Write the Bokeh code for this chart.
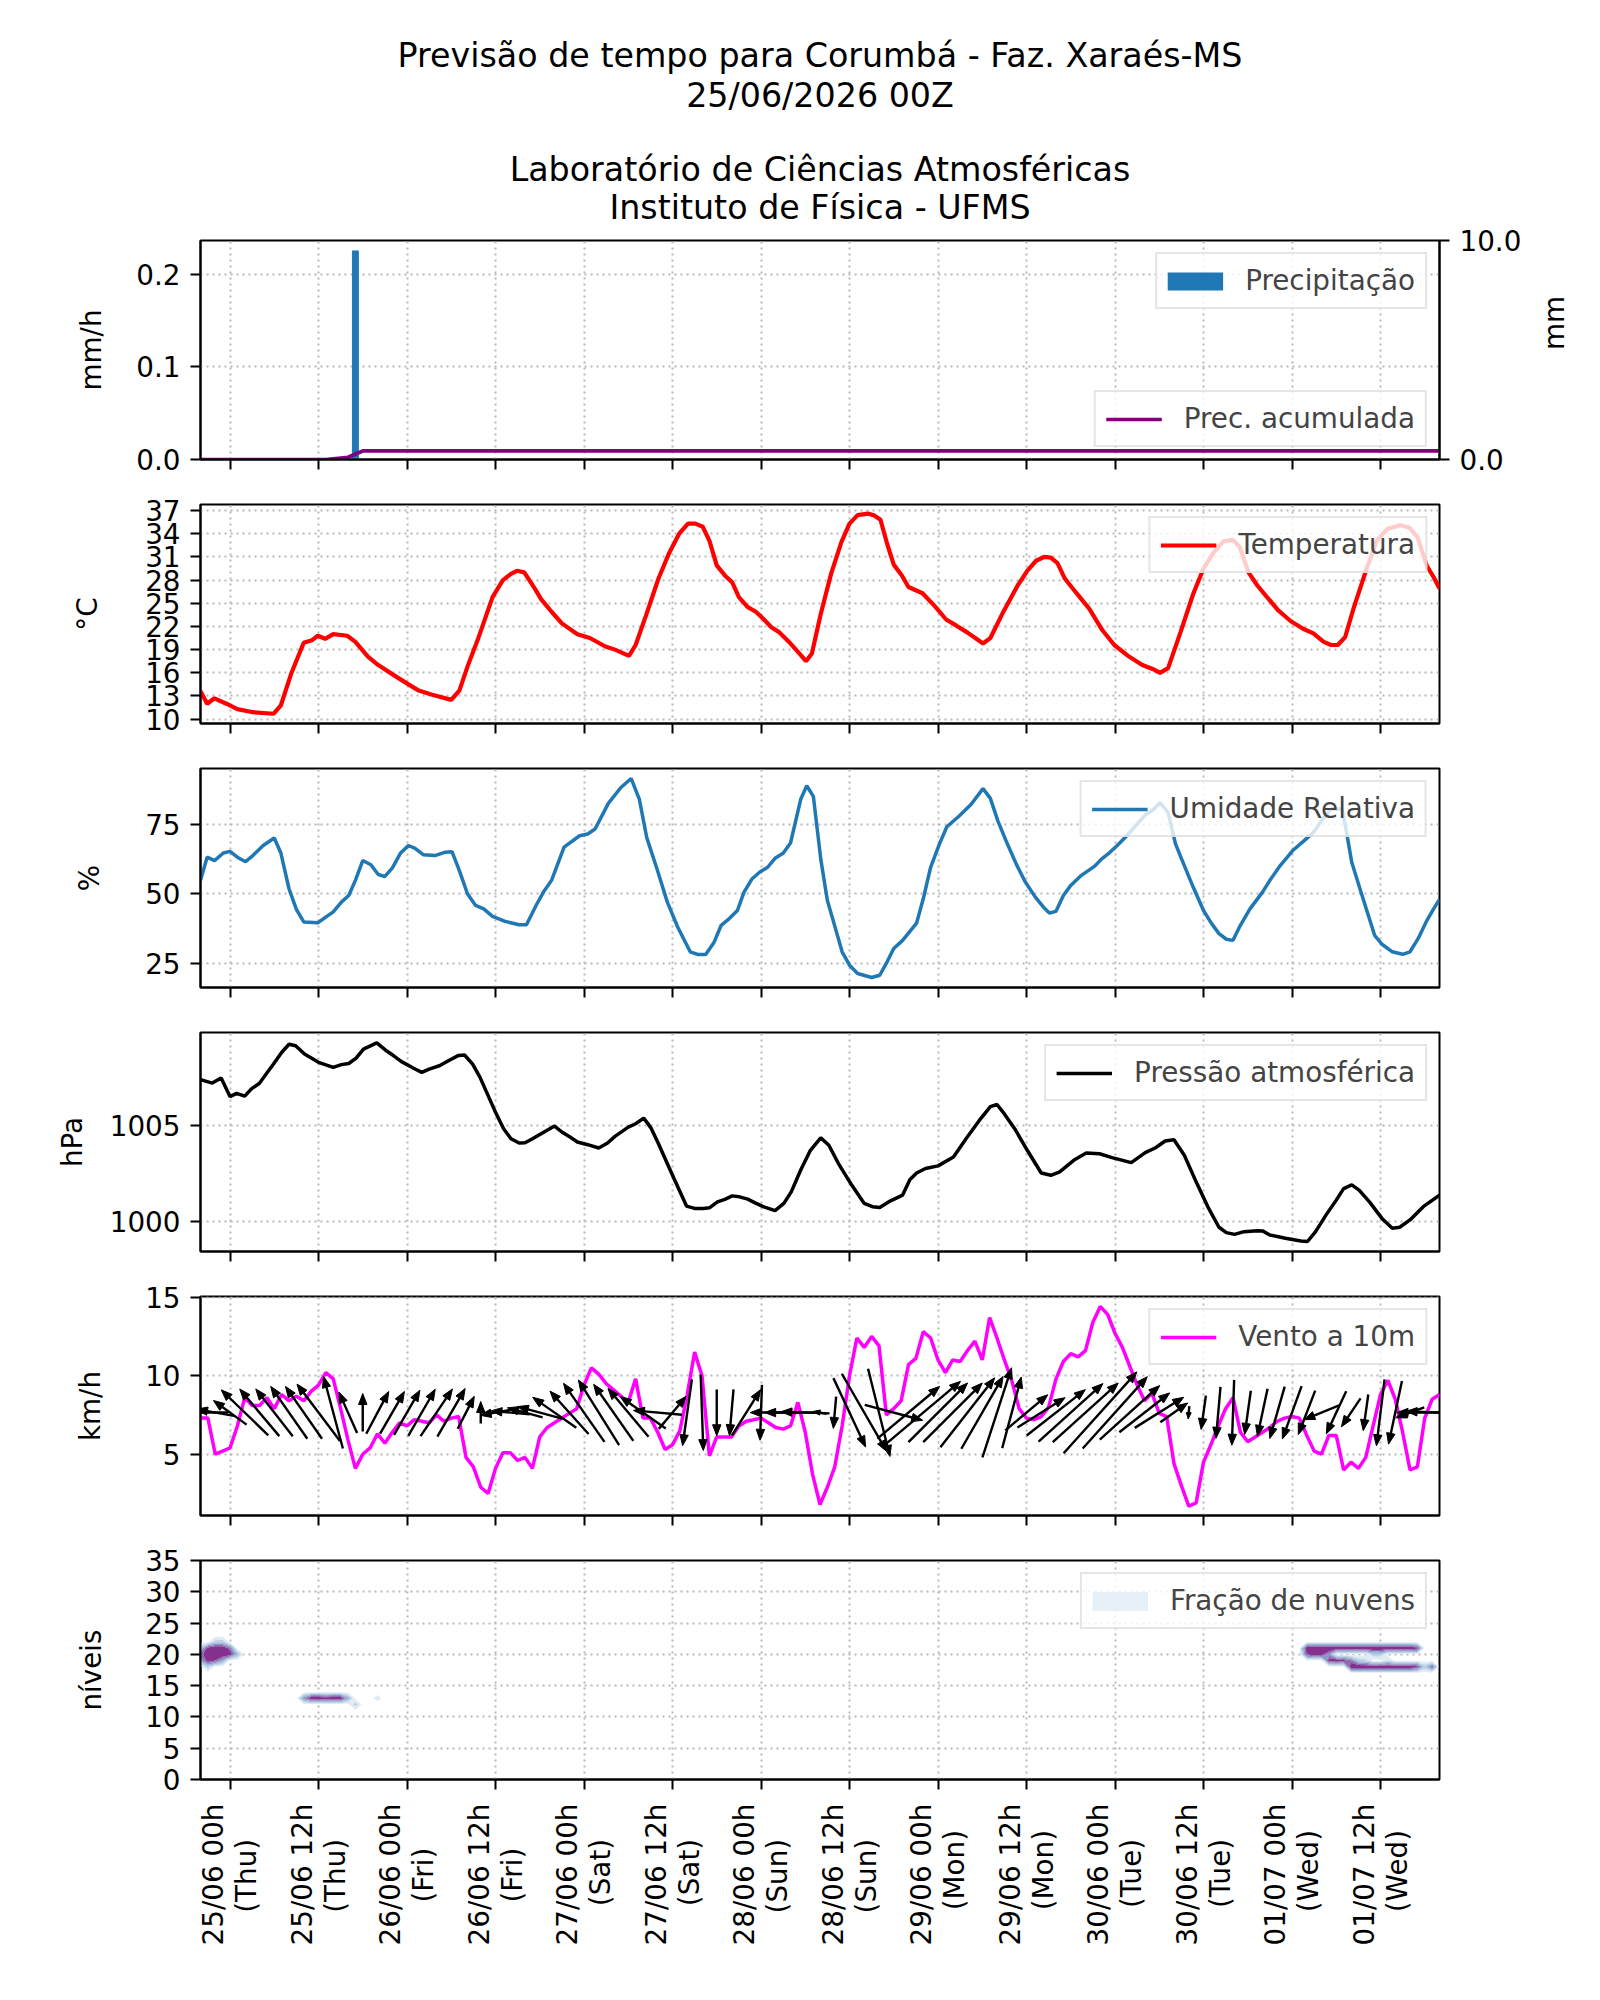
import math
import numpy as np
from bokeh.plotting import figure
from bokeh.layouts import column
from bokeh.models import (Range1d, LinearAxis, FixedTicker, NumeralTickFormatter,
                          Legend, LegendItem)
from bokeh.core.properties import value
from bokeh.embed import file_html
from bokeh.resources import INLINE

# ---------------------------------------------------------------- data
title_lines = ["Previsão de tempo para Corumbá - Faz. Xaraés-MS",
               "25/06/2026 00Z",
               "Laboratório de Ciências Atmosféricas",
               "Instituto de Física - UFMS"]

# time axis: hours since 24/06 20h (local time)
tick_hours = [4, 16, 28, 40, 52, 64, 76, 88, 100, 112, 124, 136, 148, 160]
tick_dates = ["25/06 00h", "25/06 12h", "26/06 00h", "26/06 12h", "27/06 00h",
              "27/06 12h", "28/06 00h", "28/06 12h", "29/06 00h", "29/06 12h",
              "30/06 00h", "30/06 12h", "01/07 00h", "01/07 12h"]
tick_days = ["(Thu)", "(Thu)", "(Fri)", "(Fri)", "(Sat)", "(Sat)", "(Sun)",
             "(Sun)", "(Mon)", "(Mon)", "(Tue)", "(Tue)", "(Wed)", "(Wed)"]

precip_hours = [21]
precip_mmh = [0.225]
acc_hours = [0, 17, 20, 22, 168]
acc_mm = [0.0, 0.0, 0.1, 0.39, 0.39]

temp_hours = [0, 0.9, 1.9, 3.5, 5, 7.1, 9.9, 10.9, 12.3, 14,
              15.1, 15.9, 16.9, 18, 19.9, 21, 22.7, 24.1, 26.2, 28.2,
              29.6, 31.3, 34, 35.1, 36.2, 37.6, 39.6, 41, 42.1, 42.9,
              43.9, 45.2, 46.2, 47.6, 49, 51.1, 52.8, 54.9, 56.2, 58.1,
              59, 60.4, 62.1, 63.5, 64.9, 66.1, 67.1, 68.1, 69, 70,
              71.1, 72.1, 73, 74.2, 75.3, 76.3, 77.4, 78.4, 79.8, 81.4,
              82.1, 82.9, 84.1, 85.5, 86.9, 88, 89.1, 90.5, 91.3, 92.2,
              93.1, 94, 95.1, 96, 97.9, 99.5, 101.1, 102.5, 104, 105.2,
              106.1, 107.1, 108.7, 110.8, 112.1, 113.3, 114.4, 115.3, 116.2, 117.2,
              118.7, 120.5, 122.3, 123.9, 125.9, 127.7, 129.1, 130.1, 131.2, 132.9,
              134.6, 136, 137.4, 138.7, 140, 140.9, 142.1, 143.3, 144.7, 146.1,
              147.8, 149.5, 150.9, 152.3, 153.3, 154.2, 155.2, 156.4, 158.2, 159.5,
              160.9, 162.7, 163.9, 165, 166.3, 167.2, 168]
temp_c = [13.6, 12.0, 12.7, 12.0, 11.3, 10.9, 10.7, 11.8, 15.9, 19.9,
          20.2, 20.8, 20.4, 21.0, 20.8, 20.0, 18.1, 17.0, 15.7, 14.5,
          13.7, 13.2, 12.5, 13.7, 16.8, 20.3, 25.8, 28.0, 28.8, 29.2,
          29.0, 27.1, 25.5, 23.9, 22.4, 21.0, 20.5, 19.4, 19.0, 18.2,
          19.6, 23.4, 28.2, 31.4, 34.0, 35.3, 35.3, 34.9, 33.1, 29.9,
          28.6, 27.7, 25.8, 24.5, 23.9, 23.0, 21.9, 21.3, 20.0, 18.3,
          17.5, 18.5, 23.6, 28.8, 32.9, 35.3, 36.4, 36.6, 36.4, 35.8,
          32.7, 30.0, 28.6, 27.1, 26.3, 24.7, 22.9, 22.1, 21.2, 20.4,
          19.8, 20.5, 23.6, 27.3, 29.2, 30.5, 31.0, 30.9, 30.2, 28.2,
          26.4, 24.3, 21.5, 19.6, 18.1, 17.0, 16.5, 16.0, 16.6, 21.3,
          26.2, 29.5, 31.6, 33.0, 33.2, 32.3, 29.0, 27.3, 25.7, 24.1,
          22.7, 21.7, 21.1, 20.0, 19.6, 19.6, 20.6, 24.5, 29.7, 33.1,
          34.6, 35.1, 34.8, 33.6, 29.8, 28.4, 26.9]
temp_ticks = [10, 13, 16, 19, 22, 25, 28, 31, 34, 37]

rh_hours = [0, 0.9, 1.9, 3.1, 4, 5, 6.1, 7.1, 8.5, 10,
            10.9, 12, 13, 14, 15.9, 18, 19.1, 20.1, 21, 22,
            23.1, 24.1, 25, 26, 27.1, 28.2, 29.1, 30.2, 31.8, 33.2,
            34.1, 35.1, 36.2, 37.3, 38.4, 39.6, 41.3, 43.2, 44.2, 45.5,
            46.5, 47.6, 49.3, 51.4, 52.5, 53.5, 55.3, 57, 58.4, 59.5,
            60.5, 61.9, 63.3, 64.7, 66.4, 67.5, 68.5, 69.6, 70.6, 71.7,
            72.8, 73.7, 74.8, 75.8, 76.9, 77.9, 79, 80, 81.4, 82.2,
            83.1, 84.1, 85, 86.1, 87, 88, 89.1, 91, 92.1, 93.1,
            94, 95.2, 97.1, 98, 99, 100.2, 101.2, 102.8, 104.5, 106.1,
            107.1, 108.1, 109.4, 110.6, 111.8, 113.2, 114.3, 115.1, 116, 117,
            118, 119.3, 121.2, 122.2, 123.2, 124.3, 125.6, 127, 128.1, 129.3,
            130.1, 131.2, 132.2, 133.4, 134.6, 136, 137.1, 138.1, 139.1, 140,
            141, 142.3, 144, 145, 146.4, 148.1, 149.5, 150.9, 152, 153.3,
            154.8, 155.4, 156.1, 157.5, 159.2, 160.2, 161.6, 163, 164, 165.1,
            166.3, 167.2, 168]
rh_pct = [54.8, 63.1, 61.9, 64.6, 65.2, 63.1, 61.5, 63.7, 67.3, 70.0,
          64.6, 51.8, 44.4, 39.9, 39.6, 43.5, 47.0, 49.4, 54.8, 61.9,
          60.4, 56.9, 56.2, 59.2, 64.5, 67.3, 66.3, 64.0, 63.7, 64.9,
          65.1, 58.3, 50.0, 45.8, 44.6, 41.9, 40.1, 38.9, 38.9, 45.8,
          50.6, 54.8, 66.7, 70.8, 71.4, 73.2, 82.4, 88.1, 91.3, 83.9,
          70.2, 58.9, 47.0, 38.1, 29.2, 28.2, 28.2, 32.4, 38.7, 41.1,
          44.0, 50.6, 55.4, 57.7, 59.5, 62.7, 64.5, 68.2, 84.0, 88.7,
          84.9, 62.5, 47.6, 37.5, 29.2, 24.4, 21.4, 20.0, 20.8, 25.6,
          30.4, 33.3, 39.5, 48.2, 59.5, 67.9, 74.0, 77.7, 82.1, 87.7,
          84.2, 76.2, 67.9, 60.7, 54.4, 48.8, 45.2, 43.1, 43.7, 49.4,
          53.0, 56.3, 59.8, 62.5, 64.6, 67.3, 70.8, 75.0, 78.2, 80.4,
          82.7, 79.2, 67.9, 60.1, 52.4, 44.0, 39.3, 35.7, 33.7, 33.3,
          38.7, 44.6, 50.6, 54.8, 60.1, 65.5, 68.7, 72.0, 76.2, 80.4,
          80.4, 72.0, 61.3, 49.4, 35.1, 31.9, 29.2, 28.3, 29.2, 33.9,
          40.5, 44.6, 48.0]
rh_ticks = [25, 50, 75]

pres_hours = [0, 1.6, 2.8, 4, 4.9, 6, 6.9, 8, 8.9, 9.9,
              11, 12, 12.9, 14.1, 16, 18, 19.1, 20.1, 21.1, 22.1,
              23.9, 25.1, 26.2, 27.2, 28.9, 30, 31, 32.4, 33.8, 35,
              35.8, 36.9, 37.9, 39, 40, 41.1, 42.1, 43.2, 44, 44.9,
              46.3, 48, 49, 50.1, 51.1, 52.5, 54, 55.2, 56.2, 58,
              59, 60.1, 61.1, 62.1, 63.2, 64.2, 65.9, 67, 68.2, 69,
              70.1, 71.1, 72.1, 73.1, 74.2, 75.2, 76.3, 77.9, 79.1, 80.1,
              81.4, 82.7, 84.1, 85.2, 86.5, 88.3, 90, 91.1, 92.1, 93.5,
              95.2, 96.2, 97.1, 98.3, 100, 102.1, 103.8, 105.6, 107.1, 108,
              109, 110.4, 112.1, 114, 115.3, 116.5, 118.4, 120.1, 121.9, 123.6,
              126.2, 128.1, 129.5, 130.8, 132, 133.4, 135, 136.7, 138.1, 139.1,
              140.2, 141.5, 143.3, 144, 145, 147.1, 149.2, 150.1, 151.2, 152.6,
              154, 155, 156.1, 157.1, 158.5, 160.2, 161.6, 162.6, 164, 165.8,
              168]
pres_hpa = [1007.38, 1007.20, 1007.47, 1006.50, 1006.67, 1006.52, 1006.90, 1007.19, 1007.67, 1008.19,
            1008.79, 1009.22, 1009.14, 1008.71, 1008.28, 1008.02, 1008.16, 1008.22, 1008.50, 1008.97,
            1009.29, 1008.91, 1008.62, 1008.33, 1007.97, 1007.76, 1007.93, 1008.10, 1008.40, 1008.64,
            1008.66, 1008.19, 1007.50, 1006.55, 1005.69, 1004.83, 1004.31, 1004.09, 1004.10, 1004.28,
            1004.60, 1004.97, 1004.66, 1004.40, 1004.14, 1004.00, 1003.83, 1004.09, 1004.43, 1004.91,
            1005.09, 1005.38, 1004.86, 1004.05, 1003.10, 1002.24, 1000.81, 1000.69, 1000.69, 1000.72,
            1001.03, 1001.16, 1001.34, 1001.29, 1001.17, 1000.98, 1000.78, 1000.57, 1000.95, 1001.55,
            1002.70, 1003.71, 1004.36, 1003.97, 1003.02, 1001.90, 1000.95, 1000.78, 1000.74, 1001.07,
            1001.38, 1002.19, 1002.53, 1002.76, 1002.90, 1003.36, 1004.31, 1005.26, 1005.98, 1006.09,
            1005.60, 1004.83, 1003.71, 1002.53, 1002.41, 1002.59, 1003.19, 1003.57, 1003.53, 1003.33,
            1003.07, 1003.59, 1003.84, 1004.19, 1004.26, 1003.45, 1002.07, 1000.69, 999.71, 999.43,
            999.34, 999.48, 999.53, 999.52, 999.31, 999.14, 999.00, 998.97, 999.48, 1000.34,
            1001.12, 1001.72, 1001.91, 1001.64, 1001.03, 1000.17, 999.66, 999.71, 1000.09, 1000.78,
            1001.38]
pres_ticks = [1000, 1005]

# hourly 10 m wind speed (km/h)
wind_kmh = [7.3, 7.3, 5.0, 5.2, 5.4, 6.8, 8.6, 8.1, 8.1, 8.6, 7.9, 8.8,
            8.4, 8.7, 8.4, 9.0, 9.4, 10.2, 9.8, 7.9, 5.9, 4.1, 5.0, 5.4,
            6.3, 5.7, 6.4, 7.0, 6.8, 7.2, 7.1, 7.0, 7.5, 7.1, 7.3, 7.4,
            4.8, 4.2, 2.9, 2.5, 4.1, 5.1, 5.1, 4.6, 4.8, 4.1, 6.1, 6.7,
            7.0, 7.3, 7.6, 7.9, 9.4, 10.5, 10.1, 9.5, 9.1, 8.7, 8.3, 9.8,
            7.3, 7.3, 6.4, 5.3, 5.6, 6.5, 8.8, 11.5, 10.0, 4.9, 6.1, 6.1,
            6.1, 6.8, 7.1, 7.2, 7.3, 7.0, 6.7, 6.6, 6.8, 8.3, 6.4, 3.7,
            1.8, 2.9, 4.2, 6.8, 10.0, 12.4, 11.8, 12.5, 11.9, 7.5, 7.9, 8.4,
            10.7, 11.1, 12.8, 12.4, 11.0, 10.2, 11.0, 10.9, 11.6, 12.2, 11.0, 13.7,
            12.4, 11.0, 9.7, 7.9, 7.3, 7.2, 7.4, 8.0, 9.8, 10.9, 11.4, 11.2,
            11.6, 13.4, 14.4, 13.9, 12.7, 11.8, 10.6, 9.4, 8.4, 8.9, 7.6, 7.4,
            4.4, 3.0, 1.7, 1.9, 4.5, 5.6, 6.8, 7.9, 8.6, 6.4, 5.8, 6.1,
            6.4, 6.7, 7.1, 7.3, 7.4, 7.3, 6.2, 5.2, 5.0, 6.2, 6.2, 4.0,
            4.5, 4.1, 4.8, 6.8, 8.8, 9.7, 8.5, 6.4, 4.0, 4.2, 7.3, 8.5,
            8.8]
# wind direction (degrees it blows from), every second hour
arrow_step = 2
wind_dir = [90, 100, 126, 134, 140, 142, 145, 145, 143, 165,
            156, 180, 208, 210, 210, 210, 214, 210, 207, 180,
            80, 95, 105, 105, 125, 138, 145, 148, 145, 140,
            125, 95, 220, 8, 358, 0, 5, 212, 2, 90,
            90, 92, 100, 5, 335, 330, 346, 285, 230, 230,
            225, 225, 218, 210, 198, 195, 230, 238, 232, 228,
            228, 222, 222, 228, 232, 238, 235, 5, 8, 5,
            2, 8, 12, 16, 20, 21, 68, 25, 34, 8,
            7, 12, 70, 90, 92]
wind_ticks = [5, 10, 15]

# cloud fraction on model levels (sparse cells: hour, level, fraction)
cloud_hours = [0, 1, 2, 3, 4, 5, 0, 1, 2, 3, 4, 0, 1, 2, 3, 2, 3, 1,
               14, 15, 16, 17, 18, 19, 20, 21, 24,
               150, 151, 152, 153, 154, 155, 156, 157, 158, 159, 160, 161, 162, 163, 164, 165,
               150, 151, 152, 153, 153, 154, 155, 156,
               156, 157, 158, 159, 160, 161, 162, 163, 164, 165, 166, 167,
               157, 158, 159, 160, 161]
cloud_levels = [20, 20, 20, 20, 20, 20, 21, 21, 21, 21, 21, 19, 19, 19, 19, 22, 22, 18,
                13, 13, 13, 13, 13, 13, 13, 12, 13,
                21, 21, 21, 21, 21, 21, 21, 21, 21, 21, 21, 21, 21, 21, 21, 21,
                20, 20, 20, 20, 19, 19, 19, 19,
                18, 18, 18, 18, 18, 18, 18, 18, 18, 18, 18, 18,
                19, 19, 20, 20, 19]
cloud_frac = [0.7, 1.0, 1.0, 1.0, 0.95, 0.4, 0.3, 0.9, 1.0, 1.0, 0.7, 0.5, 0.9, 0.8, 0.5, 0.3, 0.3, 0.3,
              0.6, 1.0, 1.0, 0.95, 1.0, 1.0, 0.5, 0.3, 0.1,
              1.0, 1.0, 1.0, 1.0, 1.0, 1.0, 1.0, 1.0, 1.0, 1.0, 1.0, 1.0, 1.0, 1.0, 1.0, 0.9,
              0.8, 1.0, 0.9, 0.6, 0.9, 1.0, 0.9, 0.7,
              1.0, 1.0, 1.0, 1.0, 1.0, 1.0, 1.0, 1.0, 1.0, 0.9, 0.3, 0.8,
              0.3, 0.25, 0.3, 0.3, 0.2]
cloud_ticks = [0, 5, 10, 15, 20, 25, 30, 35]
cloud_bounds = [0.05, 0.2, 0.35, 0.5, 0.65, 0.8, 1.01]
cloud_colors = ["#e0ecf4", "#bfd3e6", "#9ebcda", "#8c96c6", "#8c6bb1", "#85308f"]

# ---------------------------------------------------------------- layout
FONT = "DejaVu Sans"
FS = "27.8px"
W = 1600
LEFT, RIGHT = 200, 161
FRAME_H = 219
GAP_TOP, GAP_BOT = 23, 22
HEADER_H = 226
P1_TOP = 14            # header + P1_TOP puts the first frame at y = 240
TITLE_Y = [54.5, 94.5, 169, 206.5]

# DejaVu Sans advance widths (em), used to centre the two-line tick labels
ADV = {"0": .636, "1": .636, "2": .636, "3": .636, "4": .636, "5": .636, "6": .636,
       "7": .636, "8": .636, "9": .636, "/": .337, " ": .318, "h": .634, "(": .390,
       ")": .390, "T": .611, "u": .634, "F": .575, "r": .411, "i": .278, "S": .635,
       "a": .613, "t": .392, "n": .634, "M": .863, "o": .612, "e": .615, "W": .989,
       "d": .635}


def text_em(s):
    return sum(ADV.get(c, 0.6) for c in s)


def two_line(a, b):
    pad = int(round((text_em(a) - text_em(b)) / 2 / ADV[" "]))
    return a + "\n" + b + "\u00a0" * max(pad, 0)


x_range = Range1d(0, 168)


def style_axis(ax):
    ax.axis_line_color = "black"
    ax.axis_line_width = 2
    ax.major_tick_line_color = "black"
    ax.major_tick_line_width = 2
    ax.major_tick_out = 10
    ax.major_tick_in = 0
    ax.minor_tick_line_color = None
    ax.major_label_text_font = FONT
    ax.major_label_text_font_size = FS
    ax.major_label_text_color = "black"
    ax.major_label_standoff = 10
    ax.axis_label_text_font = FONT
    ax.axis_label_text_font_size = FS
    ax.axis_label_text_font_style = "normal"
    ax.axis_label_text_color = "black"


def make_panel(y0, y1, yticks, ylabel, label_standoff, top=GAP_TOP, bottom=GAP_BOT):
    p = figure(width=W, height=top + FRAME_H + bottom, x_range=x_range,
               y_range=Range1d(y0, y1), toolbar_location=None, output_backend="svg",
               title=None, min_border_left=LEFT, min_border_right=RIGHT,
               min_border_top=top, min_border_bottom=bottom)
    p.outline_line_color = "black"
    p.outline_line_width = 2
    p.xaxis.ticker = FixedTicker(ticks=tick_hours)
    p.yaxis.ticker = FixedTicker(ticks=yticks)
    p.yaxis.axis_label = ylabel
    for ax in p.axis:
        style_axis(ax)
    p.yaxis.axis_label_standoff = label_standoff
    p.xaxis.major_label_overrides = {h: "" for h in tick_hours}
    for g in p.grid:
        g.grid_line_color = "#b8b8b8"
        g.grid_line_dash = "2 4"
        g.grid_line_width = 2
    return p


def add_legend(p, entries, location):
    lg = Legend(items=[LegendItem(label=lbl, renderers=[r]) for lbl, r in entries],
                location=location, margin=12, padding=10, spacing=0,
                glyph_width=56, glyph_height=32, label_standoff=22,
                label_text_font=FONT, label_text_font_size=FS,
                border_line_color="#cccccc", border_line_width=2,
                background_fill_color="white", background_fill_alpha=0.8)
    p.add_layout(lg)


def patch_key(p, color, thickness):
    # legend swatch: a line renderer with no visible data
    return p.line(x=np.array([np.nan]), y=np.array([np.nan]), color=color,
                  line_width=thickness, line_cap="butt")


# header with the titles
hdr = figure(width=W, height=HEADER_H, x_range=Range1d(0, W), y_range=Range1d(HEADER_H, 0),
             title=None, min_border=0, toolbar_location=None, output_backend="svg",
             x_axis_type=None, y_axis_type=None)
hdr.outline_line_color = None
hdr.text(x=[W / 2] * 4, y=TITLE_Y, text=title_lines,
         text_font=value(FONT), text_font_size="33.3px",
         text_align="center", text_baseline="alphabetic", text_color="black")

# 1) precipitation
p1 = make_panel(0, 1.05 * max(precip_mmh), [0, 0.1, 0.2], "mm/h", 25, top=P1_TOP)
p1.yaxis.formatter = NumeralTickFormatter(format="0.0")
p1.extra_y_ranges = {"acc": Range1d(0, 10)}
bars = p1.vbar(x=precip_hours, top=precip_mmh, width=0.8, color="#1f77b4")
acc_line = p1.line(acc_hours, acc_mm, y_range_name="acc", color="#800080", line_width=3.7)
ax_r = LinearAxis(y_range_name="acc", ticker=FixedTicker(ticks=[0, 10]),
                  formatter=NumeralTickFormatter(format="0.0"), axis_label="mm")
style_axis(ax_r)
ax_r.axis_label_standoff = 30
if "axis_label_orientation" in ax_r.properties():
    ax_r.axis_label_orientation = math.pi / 2
p1.add_layout(ax_r, "right")
add_legend(p1, [("Precipitação", patch_key(p1, "#1f77b4", 18))], "top_right")
add_legend(p1, [("Prec. acumulada", acc_line)], "bottom_right")

# 2) temperature
p2 = make_panel(9.44, 37.78, temp_ticks, "°C", 38)
t_line = p2.line(temp_hours, temp_c, color="red", line_width=4.2)
add_legend(p2, [("Temperatura", t_line)], "top_right")

# 3) relative humidity
p3 = make_panel(16.4, 94.9, rh_ticks, "%", 36)
rh_line = p3.line(rh_hours, rh_pct, color="#1f77b4", line_width=3.5)
add_legend(p3, [("Umidade Relativa", rh_line)], "top_right")

# 4) pressure
p4 = make_panel(998.45, 1009.83, pres_ticks, "hPa", 18)
pr_line = p4.line(pres_hours, pres_hpa, color="black", line_width=3.5)
add_legend(p4, [("Pressão atmosférica", pr_line)], "top_right")

# 5) wind speed and direction arrows
WIND_Y0, WIND_Y1 = 1.1, 15.04
p5 = make_panel(WIND_Y0, WIND_Y1, wind_ticks, "km/h", 35)
hrs = np.arange(len(wind_kmh), dtype=float)
w_line = p5.line(hrs, wind_kmh, color="#ff00ff", line_width=3.5)

px_per_h = (W - LEFT - RIGHT) / (x_range.end - x_range.start)
px_per_kmh = FRAME_H / (WIND_Y1 - WIND_Y0)
ARROW_PX = 7.6          # arrow length in pixels per km/h
HEAD_LEN, HEAD_HALF = 11.0, 4.2
qy = float(np.mean(wind_kmh))
ah = hrs[::arrow_step]
spd = np.array(wind_kmh, dtype=float)[::arrow_step]
rad = np.radians(np.array(wind_dir, dtype=float))
u, v = -spd * np.sin(rad), -spd * np.cos(rad)
ax_px, ay_px = u * ARROW_PX, v * ARROW_PX
L = np.hypot(ax_px, ay_px)
ex, ey = ax_px / L, ay_px / L
hl = np.minimum(HEAD_LEN, 0.5 * L)
hw = HEAD_HALF * hl / HEAD_LEN
tip_x, tip_y = ax_px / 2, ay_px / 2
tail_x, tail_y = -ax_px / 2, -ay_px / 2
base_x, base_y = tip_x - hl * ex, tip_y - hl * ey
lx, ly = base_x - hw * ey, base_y + hw * ex
rx, ry = base_x + hw * ey, base_y - hw * ex


def dx(h, px):
    return h + px / px_per_h


def dy(py):
    return qy + py / px_per_kmh


p5.segment(x0=dx(ah, tail_x), y0=dy(tail_y), x1=dx(ah, base_x), y1=dy(base_y),
           line_color="black", line_width=2.4)
p5.patches(xs=[[dx(h, a), dx(h, b), dx(h, c)] for h, a, b, c in zip(ah, tip_x, lx, rx)],
           ys=[[dy(a), dy(b), dy(c)] for a, b, c in zip(tip_y, ly, ry)],
           fill_color="black", line_color="black", line_width=1)
add_legend(p5, [("Vento a 10m", w_line)], "top_right")

# 6) cloud fraction
p6 = make_panel(0, 35, cloud_ticks, "níveis", 34, bottom=200)
grid_h = np.arange(0, 169)
grid_l = np.arange(0, 36)
Z = np.zeros((len(grid_l), len(grid_h)))
for h, l, f in zip(cloud_hours, cloud_levels, cloud_frac):
    Z[l, h] = f
p6.contour(grid_h, grid_l, Z, levels=cloud_bounds, fill_color=cloud_colors, line_color=None)
add_legend(p6, [("Fração de nuvens", patch_key(p6, "#e8f0f7", 19))], "top_right")
p6.xaxis.major_label_orientation = math.pi / 2
p6.xaxis.major_label_standoff = 14
p6.xaxis.major_label_text_line_height = 1.0
p6.xaxis.major_label_overrides = {h: two_line(a, b)
                                  for h, a, b in zip(tick_hours, tick_dates, tick_days)}

layout = column(hdr, p1, p2, p3, p4, p5, p6, spacing=0)
open("out.html", "w").write(file_html(layout, INLINE))
